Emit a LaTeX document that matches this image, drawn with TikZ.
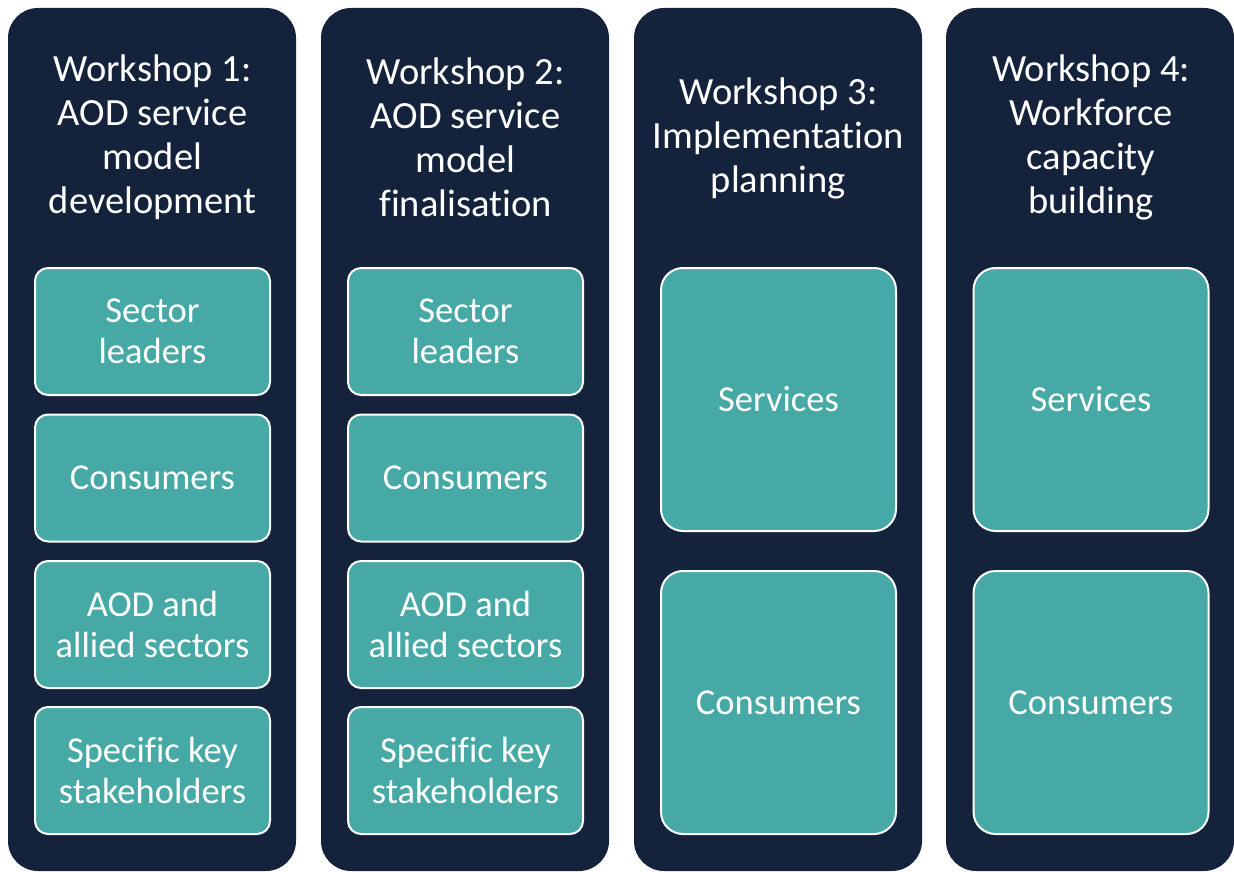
\documentclass[tikz,border=0pt]{standalone}
\usepackage{fontspec}
\setmainfont{Carlito}[Ligatures=NoCommon]
\definecolor{navy}{HTML}{14223C}
\definecolor{teal}{HTML}{47A9A5}
\tikzset{
  column/.style={fill=navy, rounded corners=30pt},
  title/.style={text=white, align=center, font=\fontsize{38.5}{44}\selectfont, inner sep=0pt},
  smallbox/.style={draw=white, line width=2pt, fill=teal, rounded corners=13pt,
    text=white, align=center, font=\fontsize{36.5}{41}\selectfont,
    minimum width=235pt, minimum height=127pt, inner sep=0pt},
  bigbox/.style={smallbox, rounded corners=22pt, minimum height=263pt}
}
\begin{document}
\begin{tikzpicture}[x=1pt,y=-1pt]
\useasboundingbox (0,0) rectangle (1234,872);
% four workshop columns
\foreach \cx [count=\i] in {8,321,634,946}{
  \fill[column] (\cx,8) rectangle ++(288,863);
}
% column titles
\node[title] (t1) at (152.5,137.5) {Workshop 1:\\AOD service\\model\\development};
\node[title] (t2) at (465.5,137.5) {Workshop 2:\\AOD service\\model\\finalisation};
\node[title] (t3) at (778.5,138) {Workshop 3:\\Implementation\\planning};
\node[title] (t4) at (1091,137.5) {Workshop 4:\\Workforce\\capacity\\building};
% participant groups, workshops 1 and 2
\node[smallbox] (a1) at (152.5,331.5) {Sector\\leaders};
\node[smallbox] (a2) at (152.5,478) {Consumers};
\node[smallbox] (a3) at (152.5,624.5) {AOD and\\allied sectors};
\node[smallbox] (a4) at (152.5,770.5) {Specific key\\stakeholders};
\node[smallbox] (b1) at (465.5,331.5) {Sector\\leaders};
\node[smallbox] (b2) at (465.5,478) {Consumers};
\node[smallbox] (b3) at (465.5,624.5) {AOD and\\allied sectors};
\node[smallbox] (b4) at (465.5,770.5) {Specific key\\stakeholders};
% participant groups, workshops 3 and 4
\node[bigbox] (c1) at (778.5,399.5) {Services};
\node[bigbox] (c2) at (778.5,702.5) {Consumers};
\node[bigbox] (d1) at (1091,399.5) {Services};
\node[bigbox] (d2) at (1091,702.5) {Consumers};
\end{tikzpicture}
\end{document}
